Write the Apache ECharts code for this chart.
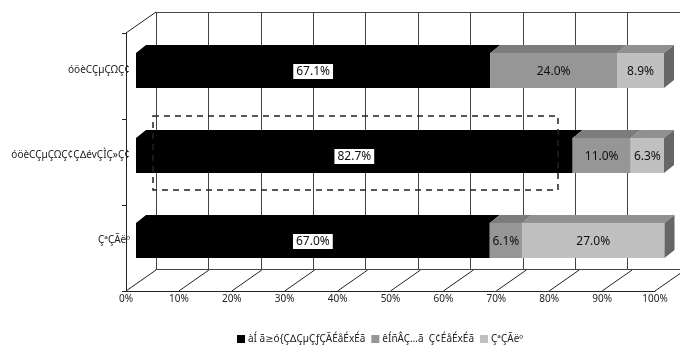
<!DOCTYPE html>
<html>
<head>
<meta charset="utf-8">
<script src="https://cdn.jsdelivr.net/npm/echarts@6/dist/echarts.min.js"></script>
<style>
  html, body { margin: 0; padding: 0; background: #fff; }
  #chart { width: 680px; height: 352px; }
</style>
</head>
<body>
<div id="chart"></div>
<script>
// Survey answers, top row first
const categories = ['óöèCÇµÇΩÇ¢', 'óöèCÇµÇΩÇ¢Ç∆évÇÌÇ»Ç¢', 'ÇªÇÃëº'];
const seriesNames = ['àÍ ã≥ó{Ç∆ÇµÇƒÇÃÉåÉxÉã', 'êÍñÂÇ…ã  Ç¢ÉåÉxÉã', 'ÇªÇÃëº'];
// percentage shares per answer (same order as categories)
const generalLevel = [67.1, 82.7, 67.0];
const specialistLevel = [24.0, 11.0, 6.1];
const otherShare = [8.9, 6.3, 27.0];
const percentTicks = [0, 10, 20, 30, 40, 50, 60, 70, 80, 90, 100];

const seriesValues = [generalLevel, specialistLevel, otherShare];

// face colours: front, top, right side
const faceColors = [
  { front: '#000000', top: '#000000', side: '#000000' },
  { front: '#969696', top: '#7c7c7c', side: '#666666' },
  { front: '#c0c0c0', top: '#909090', side: '#666666' }
];

const FONT = '"Noto Sans", "DejaVu Sans", sans-serif';
// depth of the whole box and of the bars (pixel offsets toward the back)
const WALL_DX = 30, WALL_DY = -21;
const BAR_DX = 10, BAR_DY = -8;
const BAR_RATIO = 0.41;

const chart = echarts.init(document.getElementById('chart'), null, { renderer: 'canvas' });

// stacked segments: [categoryIndex, start, end, value]
function segmentsFor(si) {
  return categories.map((c, ci) => {
    let start = 0;
    for (let k = 0; k < si; k++) start += seriesValues[k][ci];
    const v = seriesValues[si][ci];
    return [ci, start, start + v, v];
  });
}

function barRenderer(si) {
  const col = faceColors[si];
  const isLast = si === seriesValues.length - 1;
  return function (params, api) {
    const cat = api.value(0), start = api.value(1), end = api.value(2), v = api.value(3);
    const a = api.coord([start, cat]);
    const b = api.coord([end, cat]);
    const h = api.size([0, 1])[1] * BAR_RATIO;
    const x0 = a[0], x1 = b[0];
    const yT = a[1] - h / 2, yB = a[1] + h / 2;
    const children = [
      { type: 'polygon', shape: { points: [[x0, yT], [x1, yT], [x1 + BAR_DX, yT + BAR_DY], [x0 + BAR_DX, yT + BAR_DY]] },
        style: { fill: col.top } },
      { type: 'rect', shape: { x: x0, y: yT, width: x1 - x0, height: yB - yT }, style: { fill: col.front } }
    ];
    if (isLast) {
      children.push({ type: 'polygon',
        shape: { points: [[x1, yT], [x1 + BAR_DX, yT + BAR_DY], [x1 + BAR_DX, yB + BAR_DY], [x1, yB]] },
        style: { fill: col.side } });
    }
    const label = { type: 'text', x: (x0 + x1) / 2, y: a[1] + 1, z2: 10,
      style: { text: v.toFixed(1) + '%', align: 'center', verticalAlign: 'middle',
               font: '12px ' + FONT, fill: '#111' } };
    if (si === 0) {
      label.style.backgroundColor = '#ffffff';
      label.style.padding = [2, 3, 1, 3];
    }
    children.push(label);
    return { type: 'group', children: children };
  };
}

// floor diagonals and the top-left edge of the box
function frameRenderer(params, api) {
  const cs = params.coordSys;
  const x = api.coord([api.value(0), 0])[0];
  const yb = cs.y + cs.height;
  const children = [
    { type: 'line', shape: { x1: x, y1: yb, x2: x + WALL_DX, y2: yb + WALL_DY }, style: { stroke: '#222', lineWidth: 1 } }
  ];
  if (params.dataIndex === 0) {
    children.push({ type: 'line', shape: { x1: cs.x, y1: cs.y, x2: cs.x + WALL_DX, y2: cs.y + WALL_DY },
      style: { stroke: '#222', lineWidth: 1 } });
  }
  return { type: 'group', children: children };
}

const option = {
  animation: false,
  backgroundColor: '#ffffff',
  textStyle: { fontFamily: FONT },
  grid: [
    { left: 126, top: 33, width: 529, height: 258 },   // front plane
    { left: 136, top: 28, width: 528, height: 255 },   // bar plane
    { left: 156, top: 12, width: 530, height: 257 }    // back wall
  ],
  xAxis: [
    { gridIndex: 0, type: 'value', min: 0, max: 100, interval: 10,
      axisLine: { show: true, lineStyle: { color: '#222', width: 1 } },
      axisTick: { show: false }, splitLine: { show: false },
      axisLabel: { formatter: '{value}%', fontSize: 10, color: '#222', margin: 3, fontFamily: FONT } },
    { gridIndex: 1, type: 'value', min: 0, max: 100, show: false },
    { gridIndex: 2, type: 'value', min: 0, max: 100, interval: 10, position: 'bottom',
      axisLine: { show: true, lineStyle: { color: '#444', width: 1 } },
      axisTick: { show: false }, axisLabel: { show: false },
      splitLine: { show: true, lineStyle: { color: '#444', width: 1 } } },
    { gridIndex: 2, type: 'value', min: 0, max: 100, position: 'top',
      axisLine: { show: true, lineStyle: { color: '#444', width: 1 } },
      axisTick: { show: false }, axisLabel: { show: false }, splitLine: { show: false } }
  ],
  yAxis: [
    { gridIndex: 0, type: 'category', data: categories, inverse: true,
      axisLine: { show: true, lineStyle: { color: '#222', width: 1 } },
      axisTick: { show: true, length: 4, lineStyle: { color: '#222' } },
      axisLabel: { show: false } },
    { gridIndex: 1, type: 'category', data: categories, inverse: true,
      axisLine: { show: false }, axisTick: { show: false },
      axisLabel: { fontSize: 10, color: '#222', margin: 6, fontFamily: FONT } },
    { gridIndex: 2, type: 'value', min: 0, max: 1, show: false }
  ],
  legend: {
    left: 232, top: 329, itemWidth: 8, itemHeight: 8, itemGap: 6, icon: 'rect',
    data: seriesNames,
    textStyle: { fontSize: 10, color: '#222', fontFamily: FONT, padding: [0, 0, 0, -2] }
  },
  series: [
    { type: 'custom', name: 'frame', xAxisIndex: 0, yAxisIndex: 0, silent: true, z: 1,
      renderItem: frameRenderer, data: percentTicks.map(t => [t, 0]), encode: { x: 0, y: 1 } }
  ].concat(seriesValues.map((vals, si) => ({
    type: 'custom', name: seriesNames[si], xAxisIndex: 1, yAxisIndex: 1, z: 3 + si,
    itemStyle: { color: faceColors[si].front },
    renderItem: barRenderer(si),
    data: segmentsFor(si),
    encode: { x: [1, 2], y: 0 }
  }))),
  graphic: [
    // dashed highlight around the middle answer
    { type: 'rect', z: 100, silent: true,
      shape: { x: 153, y: 116, width: 405, height: 74 },
      style: { fill: null, stroke: '#222', lineWidth: 1.5, lineDash: [6, 5] } }
  ]
};

chart.setOption(option);
</script>
</body>
</html>
